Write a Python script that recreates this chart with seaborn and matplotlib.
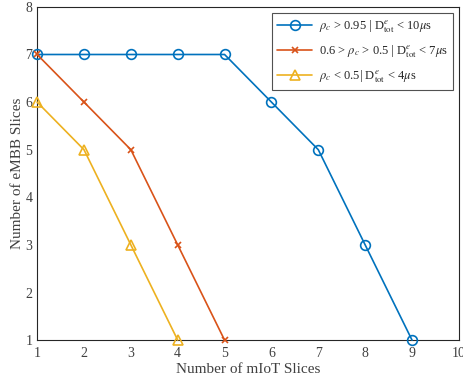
import matplotlib
matplotlib.use("Agg")
import matplotlib.pyplot as plt
import seaborn as sns
import pandas as pd

x_blue = [1, 2, 3, 4, 5, 6, 7, 8, 9]
y_blue = [7, 7, 7, 7, 7, 6, 5, 3, 1]
x_red = [1, 2, 3, 4, 5]
y_red = [7, 6, 5, 3, 1]
x_yellow = [1, 2, 3, 4]
y_yellow = [6, 5, 3, 1]
labels = [r'$\rho_c$ > 0.95 | D$^{e}_{\mathrm{tot}}$ < 10$\mu$s',
          r'0.6 > $\rho_c$ > 0.5 | D$^{e}_{\mathrm{tot}}$ < 7$\mu$s',
          r'$\rho_c$ < 0.5| D$^{e}_{\mathrm{tot}}$ < 4$\mu$s']
colors = ['#0072BD', '#D95319', '#EDB120']
markers = ['o', 'x', '^']
msizes = [7, 5, 7]

sns.set_style("white")
plt.rcParams['font.family'] = ['Liberation Serif', 'DejaVu Serif']
plt.rcParams['mathtext.fontset'] = 'stix'

fig = plt.figure(figsize=(4.64, 3.83), dpi=100)
ax = fig.add_axes([0.080, 0.112, 0.909, 0.870])

series = [(x_blue, y_blue), (x_red, y_red), (x_yellow, y_yellow)]
for (xs, ys), lab, c, m, ms in zip(series, labels, colors, markers, msizes):
    df = pd.DataFrame({'x': xs, 'y': ys})
    mfc = 'none' if m != 'x' else c
    sns.lineplot(data=df, x='x', y='y', ax=ax, color=c, marker=m, markersize=ms,
                 markerfacecolor=mfc, markeredgecolor=c, markeredgewidth=1.2,
                 linewidth=1.2, label=lab, clip_on=False, zorder=3)

ax.set_xlim(1, 10)
ax.set_ylim(1, 8)
ax.set_xticks(range(1, 11))
ax.set_yticks(range(1, 9))
ax.tick_params(direction='in', length=4, labelsize=10, colors='#404040', top=False, right=False)
ax.tick_params(axis='x', pad=5)
for s in ax.spines.values():
    s.set_color('#262626')
    s.set_linewidth(0.8)
ax.set_xlabel('Number of mIoT Slices', fontsize=11, color='#404040', labelpad=2)
ax.set_ylabel('Number of eMBB Slices', fontsize=11, color='#404040', labelpad=1)

leg = ax.legend(loc='upper right', fontsize=9, frameon=True, fancybox=False,
                edgecolor='#262626', handlelength=2.8, borderaxespad=0.5,
                labelspacing=0.7, handletextpad=0.5)
leg.get_frame().set_linewidth(0.8)

fig.savefig('out.png', dpi=100)
